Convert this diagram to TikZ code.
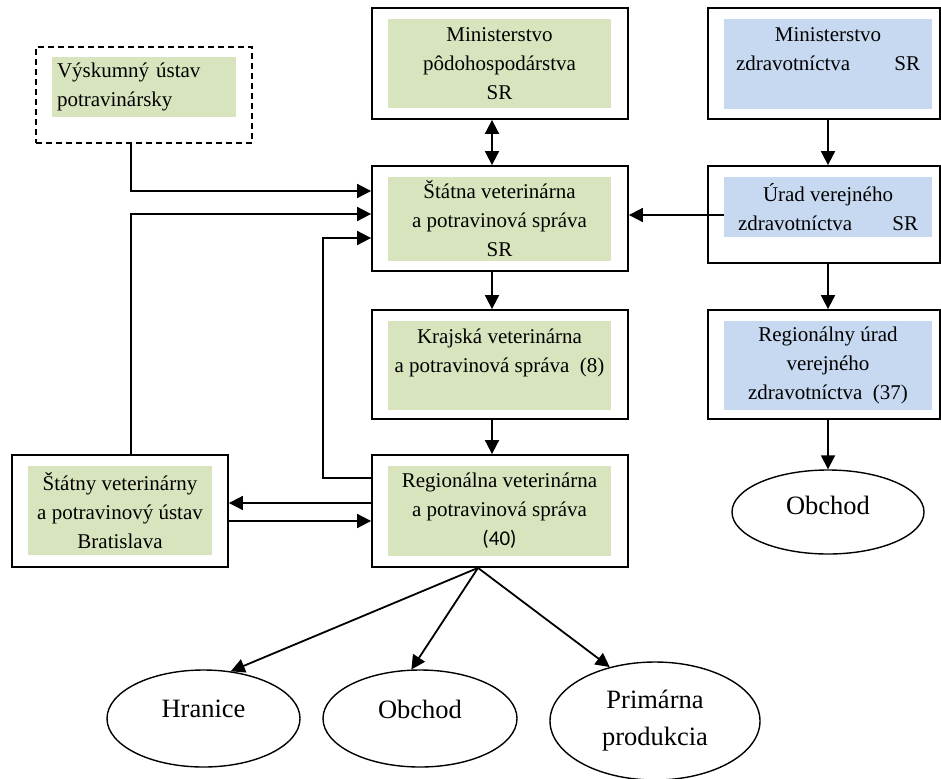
\documentclass[tikz,border=0pt]{standalone}
\usepackage{fontspec}
\setmainfont{Liberation Serif}
\newfontfamily\calibri{Carlito}
\usetikzlibrary{arrows.meta}
\usetikzlibrary{shapes.geometric}
\definecolor{vetgreen}{HTML}{D7E4BD}
\definecolor{healthblue}{HTML}{C6D9F1}

\begin{document}
\begin{tikzpicture}[x=1pt,y=-1pt,
    every node/.style={font=\fontsize{21}{29}\selectfont},
    outer/.style={draw,line width=1.8pt,inner sep=0pt},
    agrofill/.style={fill=vetgreen,inner sep=0pt,align=center},
    healthfill/.style={fill=healthblue,inner sep=0pt,align=center},
    oval/.style={draw,ellipse,line width=1.4pt,inner sep=0pt,align=center,font=\fontsize{26.5}{37}\selectfont},
    arr/.style={line width=1.8pt,-{Triangle[length=14pt,width=14pt]}},
    dblarr/.style={line width=1.8pt,{Triangle[length=14pt,width=14pt]}-{Triangle[length=14pt,width=14pt]}}]
    \useasboundingbox (0,0) rectangle (941,778);
    \node[outer,dash pattern=on 6pt off 4pt,minimum width=216pt,minimum height=96pt] (vyskum) at (144,95) {};
    \node[agrofill,align=left,text width=174pt,minimum width=184pt,minimum height=60pt] (vyskumin) at (144,87) {Výskumný ústav\\potravinársky};
    \node[outer,minimum width=256pt,minimum height=111pt] (minpo) at (500,63.5) {};
    \node[agrofill,minimum width=223pt,minimum height=89pt] (minpoin) at (499.5,63.5) {Ministerstvo\\pôdohospodárstva\\SR};
    \node[outer,minimum width=232pt,minimum height=111pt] (minzd) at (824,63.5) {};
    \node[healthfill,minimum width=208pt,minimum height=90pt] (minzdin) at (828,64) {Ministerstvo\\\makebox[184pt]{zdravotníctva\hfill SR}\\\mbox{}};
    \node[outer,minimum width=256pt,minimum height=105pt] (statna) at (500,218.5) {};
    \node[agrofill,minimum width=223pt,minimum height=84pt] (statnain) at (499.5,219) {Štátna veterinárna\\a potravinová správa\\SR};
    \node[outer,minimum width=232pt,minimum height=97pt] (urad) at (824,214.5) {};
    \node[healthfill,minimum width=208pt,minimum height=60pt] (uradin) at (828,207) {Úrad verejného\\\makebox[180pt]{zdravotníctva\hfill SR}};
    \node[outer,minimum width=256pt,minimum height=109pt] (kraj) at (500,364.5) {};
    \node[agrofill,minimum width=223pt,minimum height=89pt] (krajin) at (499.5,365.5) {Krajská veterinárna\\a potravinová správa~~(8)\\\mbox{}};
    \node[outer,minimum width=232pt,minimum height=109pt] (regu) at (824,364.5) {};
    \node[healthfill,minimum width=208pt,minimum height=89pt] (reguin) at (828,365.5) {Regionálny úrad\\verejného\\zdravotníctva~~(37)};
    \node[outer,minimum width=216pt,minimum height=112pt] (ustav) at (120,511) {};
    \node[agrofill,minimum width=184pt,minimum height=89pt] (ustavin) at (120,510.5) {Štátny veterinárny\\a potravinový ústav\\Bratislava};
    \node[outer,minimum width=256pt,minimum height=112pt] (regna) at (500,511) {};
    \node[agrofill,minimum width=223pt,minimum height=90pt] (regnain) at (499.5,511) {Regionálna veterinárna\\a potravinová správa\\{\calibri (40)}};
    \node[oval,text depth=14pt,minimum width=192pt,minimum height=84pt] (obchodr) at (828,512) {Obchod};
    \node[oval,text depth=19pt,minimum width=193pt,minimum height=97pt] (hranice) at (203.5,718.5) {Hranice};
    \node[oval,text depth=19pt,minimum width=194pt,minimum height=97pt] (obchod) at (420,718.5) {Obchod};
    \node[oval,minimum width=210pt,minimum height=118pt] (primarna) at (655,721) {Primárna\\produkcia};
    \coordinate (bend) at (323,478);
    \coordinate (fan) at ([xshift=-22pt]regna.south);
    \draw[arr] ([xshift=-13pt]vyskum.south) |- ([yshift=27.5pt]statna.west);
    \draw[arr] ([xshift=11pt]ustav.north) |- ([yshift=4.5pt]statna.west);
    \draw[arr] ([yshift=33pt]regna.west) -- (bend) |- ([yshift=-19.5pt]statna.west);
    \draw[dblarr] ([xshift=-8pt]minpo.south) -- ([xshift=-8pt]statna.north);
    \draw[arr] ([xshift=4pt]minzd.south) -- ([xshift=4pt]urad.north);
    \draw[arr] ([yshift=-8pt]uradin.west) -- ([yshift=-8pt]uradin.west -| statna.east);
    \draw[arr] ([xshift=4pt]urad.south) -- ([xshift=4pt]regu.north);
    \draw[arr] ([xshift=-8pt]statna.south) -- ([xshift=-8pt]kraj.north);
    \draw[arr] ([xshift=-8pt]kraj.south) -- ([xshift=-8pt]regna.north);
    \draw[arr] (obchodr.north |- regu.south) -- (obchodr.north);
    \draw[arr] ([yshift=8pt]regna.west) -- ([yshift=8pt]regna.west -| ustav.east);
    \draw[arr] ([yshift=-10pt]ustav.east) -- ([yshift=-10pt]ustav.east -| regna.west);
    \draw[arr] (fan) -- (hranice.60);
    \draw[arr] (fan) -- (obchod.100);
    \draw[arr] (fan) -- (primarna.130);
\end{tikzpicture}
\end{document}
